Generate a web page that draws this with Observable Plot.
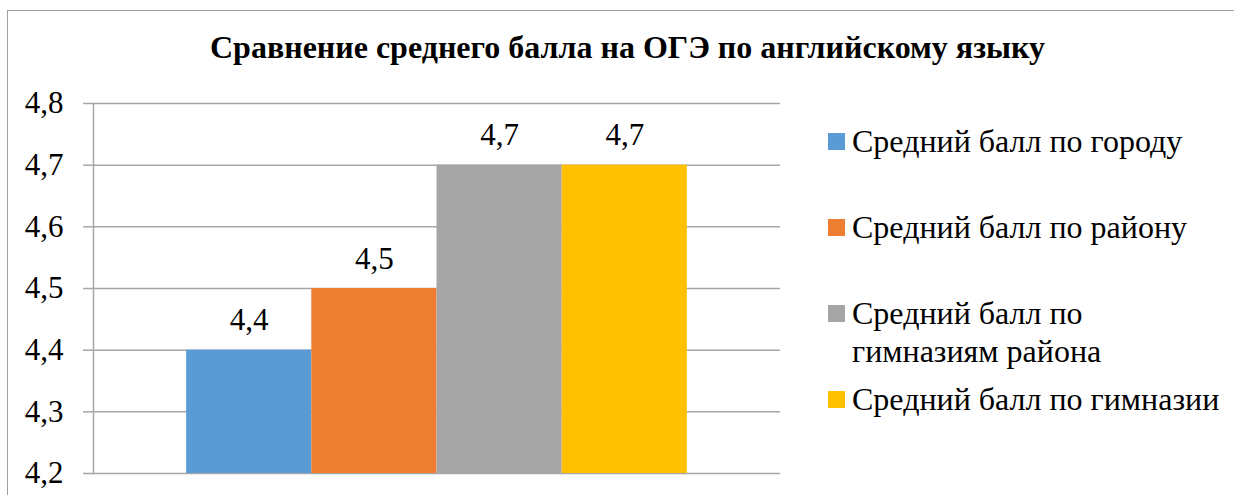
<!DOCTYPE html>
<html>
<head>
<meta charset="utf-8">
<script src="https://cdn.jsdelivr.net/npm/d3@7"></script>
<script src="https://cdn.jsdelivr.net/npm/@observablehq/plot@0.6"></script>
<style>
  html, body { margin: 0; padding: 0; background: #fff; }
  body { width: 1234px; height: 495px; position: relative; overflow: hidden; }
  #frame { position: absolute; left: 7px; top: 10px; width: 1240px; height: 500px; border: 1.5px solid #a0a0a0; box-sizing: border-box; z-index: 5; pointer-events: none; }
  #title { position: absolute; left: 0; width: 1255px; top: 30px; text-align: center; font-weight: bold; font-size: 32px; line-height: 35px; color: #000; white-space: nowrap; }
  #chart { position: absolute; left: 0; top: 80px; }
  #legend { position: absolute; left: 828px; top: 122px; }
  .item { height: 86px; display: flex; align-items: flex-start; }
  .sw { width: 17px; height: 17px; margin-top: 11px; margin-right: 7px; flex: none; }
  .lbl { font-size: 32px; line-height: 38px; color: #000; width: 400px; white-space: nowrap; }
</style>
</head>
<body>
<div id="frame"></div>
<div id="title" style="font-family:'Liberation Serif'"></div>
<div id="chart"></div>
<div id="legend" style="font-family:'Liberation Serif'"></div>
<script>
const titleText = "Сравнение среднего балла на ОГЭ по английскому языку";
const series = ["Средний балл по городу", "Средний балл по району", "Средний балл по гимназиям района", "Средний балл по гимназии"];
const legendLabels = ["Средний балл по городу", "Средний балл по району", "Средний балл по<br>гимназиям района", "Средний балл по гимназии"];
const values = [4.4, 4.5, 4.7, 4.7];
const colors = ["#5b9bd5", "#ed7d31", "#a5a5a5", "#ffc000"];
const yTicks = [4.2, 4.3, 4.4, 4.5, 4.6, 4.7, 4.8];
const yMin = 4.2, yMax = 4.8;
const FONT = "'Liberation Serif', serif";

const fmt = d => d.toFixed(1).replace(".", ",");
const data = series.map((s, i) => ({series: s, value: values[i]}));

const titleEl = document.getElementById("title");
titleEl.textContent = titleText;
titleEl.style.fontFamily = FONT;

const chart = Plot.plot({
  width: 800,
  height: 415,
  marginLeft: 93,
  marginRight: 20,
  marginTop: 23,
  marginBottom: 22,
  style: {fontFamily: FONT, fontSize: "31px", color: "#000", background: "transparent", overflow: "visible"},
  x: {type: "band", domain: series, paddingInner: 0, paddingOuter: 0.744, round: false, axis: null},
  y: {domain: [yMin, yMax], ticks: yTicks, tickFormat: fmt, label: null, grid: false},
  color: {domain: series, range: colors},
  marks: [
    Plot.ruleY(yTicks, {stroke: "#a6a6a6", strokeWidth: 1.5, strokeOpacity: 1}),
    Plot.barY(data, {x: "series", y1: () => yMin, y2: "value", fill: "series", inset: 0}),
    Plot.text(data, {x: "series", y: "value", text: d => fmt(d.value), lineAnchor: "bottom", dy: -20, fill: "#000", fontSize: 31, fontFamily: FONT}),
    Plot.axisY({ticks: yTicks, tickFormat: fmt, tickSize: 10, tickPadding: 20, stroke: "#a6a6a6", strokeWidth: 1.5, strokeOpacity: 1, fill: "#000", fontSize: 31, fontFamily: FONT, label: null}),
    Plot.frame({anchor: "left", stroke: "#a6a6a6", strokeWidth: 1.5})
  ]
});
document.getElementById("chart").appendChild(chart);

const legend = document.getElementById("legend");
legendLabels.forEach((l, i) => {
  const item = document.createElement("div");
  item.className = "item";
  item.innerHTML = `<div class="sw" style="background:${colors[i]}"></div><div class="lbl" style="font-family:'Liberation Serif'">${l}</div>`;
  legend.appendChild(item);
});
</script>
</body>
</html>
